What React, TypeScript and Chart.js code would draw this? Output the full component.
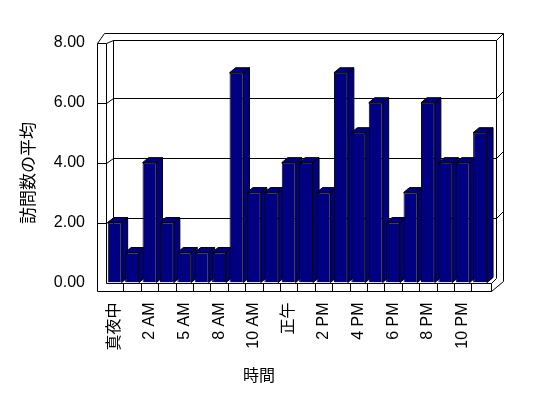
import React, { useEffect, useRef } from "react";
import { Chart, registerables } from "chart.js";

Chart.register(...registerables);

const hours = [
  "真夜中", "1 AM", "2 AM", "3 AM", "5 AM", "6 AM", "8 AM", "9 AM", "10 AM", "11 AM", "正午",
  "1 PM", "2 PM", "3 PM", "4 PM", "5 PM", "6 PM", "7 PM", "8 PM", "9 PM", "10 PM", "11 PM",
];
const avgVisits = [2, 1, 4, 2, 1, 1, 1, 7, 3, 3, 4, 4, 3, 7, 5, 6, 2, 3, 6, 4, 4, 5];
const yTickValues = [0, 2, 4, 6, 8];
const yTitle = "訪問数の平均";
const xTitle = "時間";

const NAVY = "#000080";
const FONT = "'Liberation Sans', 'Noto Sans CJK JP', sans-serif";
const JFONT = "'Noto Sans CJK JP', 'Liberation Sans', sans-serif";

const px = (v: number) => Math.round(v) + 0.5;

const frame3d = {
  id: "frame3d",
  beforeDatasetsDraw(chart: any) {
    const ctx = chart.ctx;
    const { left: L, right: R, top: T, bottom: B } = chart.chartArea;
    const ys = chart.scales.y;
    ctx.save();
    ctx.strokeStyle = "#000";
    ctx.lineWidth = 1;
    const line = (pts: number[][]) => {
      ctx.beginPath();
      pts.forEach(([x, y], i) => (i ? ctx.lineTo(x, y) : ctx.moveTo(x, y)));
      ctx.stroke();
    };
    const oL = px(L - 8.7);
    const iL = px(L);
    const bL = px(L + 6.7);
    const bR = px(R + 7.2);
    const oR = px(R + 14);
    const fR = px(R + 2);
    const topO = px(T - 10);
    const topI = px(T - 3);
    const topF = px(T);
    const floorT = px(B);
    const floorF = px(B + 8);

    // back wall gridlines and left wall ticks
    yTickValues.forEach((v) => {
      if (v === 0 || v === 8) return;
      const yf = px(ys.getPixelForValue(v));
      const yb = px(ys.getPixelForValue(v) - 4.5);
      line([[bL, yb], [bR, yb]]);
      line([[bR, yb], [oR, yb - 7]]);
      line([[oL, yf], [iL, yf], [bL, yb]]);
    });

    // outer outline
    line([[oL, floorF], [oL, topF], [px(L - 2), topO], [oR, topO], [oR, px(B - 1.5)], [fR, floorF]]);
    // left wall top & inner edge
    line([[oL, topF], [iL, topF], [bL, topI], [bR, topI], [oR, topO]]);
    line([[iL, topF], [iL, floorT]]);
    line([[bL, topI], [bL, px(B - 5)]]);
    line([[bR, topI], [bR, px(B - 5)]]);
    line([[fR, floorT], [bR, px(B - 5)]]);
    // floor front face
    line([[iL, floorT], [fR, floorT]]);
    line([[oL, floorF], [fR, floorF]]);
    line([[fR, floorT], [fR, floorF]]);

    // 3D faces of bars
    const meta = chart.getDatasetMeta(0);
    const DX = 6, DY = 5;
    ctx.fillStyle = NAVY;
    meta.data.forEach((bar: any) => {
      const x0 = bar.x - bar.width / 2;
      const x1 = bar.x + bar.width / 2;
      const y = bar.y;
      const b = bar.base;
      ctx.beginPath();
      ctx.moveTo(x1, y);
      ctx.lineTo(x1 + DX, y - DY);
      ctx.lineTo(x1 + DX, b - DY);
      ctx.lineTo(x1, b);
      ctx.closePath();
      ctx.fill();
      ctx.stroke();
      ctx.beginPath();
      ctx.moveTo(x0, y);
      ctx.lineTo(x0 + DX, y - DY);
      ctx.lineTo(x1 + DX, y - DY);
      ctx.lineTo(x1, y);
      ctx.closePath();
      ctx.fill();
      ctx.stroke();
    });
    ctx.restore();
  },
  afterDraw(chart: any) {
    const ctx = chart.ctx;
    const { left: L, right: R, bottom: B } = chart.chartArea;
    const n = hours.length;
    const cw = (R - L) / n;
    ctx.save();
    ctx.strokeStyle = "#000";
    ctx.lineWidth = 1;
    for (let k = 1; k < n; k++) {
      const x = px(L + k * cw);
      ctx.beginPath();
      ctx.moveTo(x, px(B));
      ctx.lineTo(x, px(B + 8));
      ctx.stroke();
    }
    ctx.fillStyle = "#000";
    ctx.textAlign = "center";
    ctx.textBaseline = "middle";
    ctx.font = "17px " + JFONT;
    ctx.translate(28, 173);
    ctx.rotate(-Math.PI / 2);
    ctx.fillText(yTitle, 0, 0);
    ctx.setTransform(1, 0, 0, 1, 0, 0);
    ctx.font = "16px " + JFONT;
    ctx.fillText(xTitle, 259, 375);
    ctx.restore();
  },
};

export default function App() {
  const ref = useRef<HTMLCanvasElement>(null);
  useEffect(() => {
    if (!ref.current) return;
    const chart = new Chart(ref.current, {
      type: "bar",
      data: {
        labels: hours,
        datasets: [
          {
            data: avgVisits,
            backgroundColor: NAVY,
            borderColor: "#000",
            borderWidth: 1,
            categoryPercentage: 1,
            barPercentage: 0.8,
          },
        ],
      },
      options: {
        responsive: false,
        animation: false,
        devicePixelRatio: 1,
        layout: { padding: { top: 42.8, left: 0, right: 59.2, bottom: 0 } },
        plugins: { legend: { display: false }, tooltip: { enabled: false } },
        scales: {
          x: {
            grid: { display: false, drawTicks: false },
            border: { display: false },
            afterFit: (s: any) => {
              s.height = 398 - 282.5;
            },
            ticks: {
              autoSkip: false,
              minRotation: 90,
              maxRotation: 90,
              padding: 20,
              color: "#000",
              font: { family: FONT, size: 16 },
              callback: (_v: any, i: number) => (i % 2 === 0 ? hours[i] : ""),
            },
          },
          y: {
            min: 0,
            max: 8,
            grid: { display: false, drawTicks: false },
            border: { display: false },
            afterFit: (s: any) => {
              s.width = 106;
            },
            afterBuildTicks: (s: any) => {
              s.ticks = yTickValues.map((v) => ({ value: v }));
            },
            ticks: {
              padding: 21,
              color: "#000",
              font: { family: FONT, size: 16 },
              callback: (v: any) => Number(v).toFixed(2),
            },
          },
        },
      },
      plugins: [frame3d],
    });
    return () => chart.destroy();
  }, []);
  return (
    <div style={{ position: "absolute", left: 0, top: 0, width: 548, height: 398, background: "#fff" }}>
      <canvas ref={ref} width={548} height={398} />
    </div>
  );
}
